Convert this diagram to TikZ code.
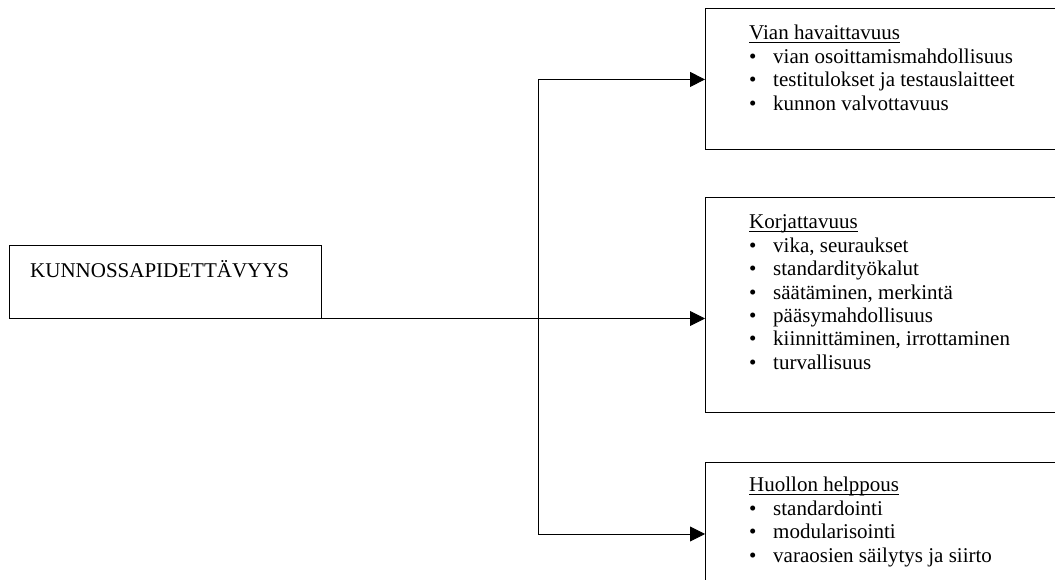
\documentclass[tikz,border=0pt]{standalone}
\usepackage{fontspec}
\setmainfont{Liberation Serif}
\usetikzlibrary{arrows.meta}

% bullet item and heading underline at a fixed distance below the baseline
\newcommand{\itm}[1]{\makebox[24pt][l]{\textbullet}#1}
\newcommand{\hd}[1]{\leavevmode\setbox0\hbox{#1}\rlap{\rule[-2.6pt]{\wd0}{0.9pt}}\box0}
\newcommand{\boxtext}[1]{%
  \begin{minipage}[t]{300pt}\setlength\parindent{0pt}%
  \fontsize{21}{23.4}\selectfont #1\end{minipage}}

\begin{document}
\begin{tikzpicture}[x=1pt,y=1pt,
  frame/.style={draw=black, line width=0.9pt, rectangle, inner sep=0pt, anchor=north west},
  content/.style={inner sep=0pt, anchor=base west},
  link/.style={draw=black, line width=0.9pt},
  arrowlink/.style={link, -{Triangle[length=15pt,width=15pt]}}]
  \useasboundingbox (0,0) rectangle (1055,580);
  \clip (0,0) rectangle (1055,580);

  % main concept
  \node[frame, minimum width=312pt, minimum height=73pt] (main) at (9,335) {};
  \node[content, font=\fontsize{21}{24}\selectfont] (maintext) at (30,302) {KUNNOSSAPIDETTÄVYYS};

  % three aspect boxes
  \node[frame, minimum width=370pt, minimum height=141pt] (b1) at (705,571.5) {};
  \node[frame, minimum width=370pt, minimum height=215pt] (b2) at (705,383) {};
  \node[frame, minimum width=370pt, minimum height=150pt] (b3) at (705,118) {};

  \node[content] (t1) at (749,540) {\boxtext{%
    \hd{Vian havaittavuus}\\
    \itm{vian osoittamismahdollisuus}\\
    \itm{testitulokset ja testauslaitteet}\\
    \itm{kunnon valvottavuus}}};

  \node[content] (t2) at (749,351) {\boxtext{%
    \hd{Korjattavuus}\\
    \itm{vika, seuraukset}\\
    \itm{standardityökalut}\\
    \itm{säätäminen, merkintä}\\
    \itm{pääsymahdollisuus}\\
    \itm{kiinnittäminen, irrottaminen}\\
    \itm{turvallisuus}}};

  \node[content] (t3) at (749,88) {\boxtext{%
    \hd{Huollon helppous}\\
    \itm{standardointi}\\
    \itm{modularisointi}\\
    \itm{varaosien säilytys ja siirto}}};

  % connectors
  \coordinate (start) at (273,261.5);
  \coordinate (jtop) at (538,0 |- b1.west);
  \coordinate (jmid) at (538,261.5);
  \coordinate (jbot) at (538,46);

  \draw[arrowlink] (start) -- (jmid) -- (b2.west |- start);
  \draw[link] (jtop) -- (jbot);
  \draw[arrowlink] (jtop) -- (b1.west);
  \draw[arrowlink] (jbot) -- (b3.west |- jbot);
\end{tikzpicture}
\end{document}
